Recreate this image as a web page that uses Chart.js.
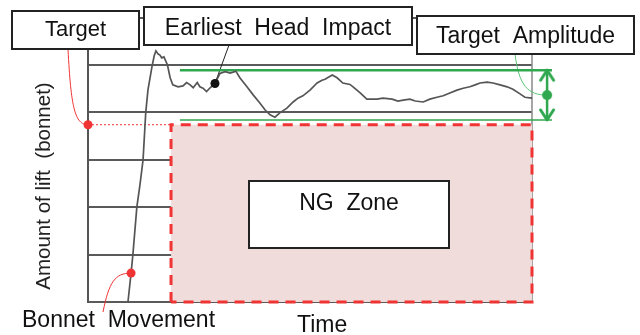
<!DOCTYPE html>
<html>
<head>
<meta charset="utf-8">
<script src="https://cdn.jsdelivr.net/npm/chart.js@4"></script>
<style>
  body { margin: 0; background: #fff; }
  canvas { display: block; }
</style>
</head>
<body>
<canvas id="lift-chart" width="640" height="335"></canvas>
<script>
// Bonnet lift trace (time 0-100, lift 0-6 grid units)
const liftTime = [9.0, 9.7, 10.1, 11.0, 11.7, 12.4, 13.0, 13.5, 14.4, 14.9, 15.3, 15.8, 16.2, 16.6, 17.1,
  17.9, 18.5, 19.1, 20.3, 21.4, 22.2, 23.0, 23.7, 24.6, 25.2, 25.9, 26.7, 27.5, 28.6, 29.7, 30.9,
  32.0, 32.7, 33.3, 34.2, 35.8, 37.2, 38.7, 39.9, 41.0, 42.1, 43.2, 44.8, 46.2, 47.3, 48.4, 50.0,
  51.6, 52.7, 53.4, 55.0, 56.1, 57.4, 59.0, 59.7, 61.3, 62.8, 65.1, 66.4, 68.5, 69.8, 71.0, 72.5,
  73.7, 75.5, 77.0, 78.6, 80.0, 81.5, 83.1, 84.5, 86.0, 87.2, 88.3, 89.9, 91.2, 92.8, 94.4, 95.7,
  97.3, 98.4, 100.0];
const liftValue = [0.00, 0.61, 0.99, 2.00, 2.47, 3.00, 3.99, 4.47, 4.96, 5.19, 5.30, 5.23, 5.21, 5.15, 5.17,
  5.00, 4.73, 4.58, 4.54, 4.56, 4.63, 4.58, 4.52, 4.63, 4.54, 4.51, 4.44, 4.52, 4.61, 4.82, 4.86,
  4.83, 4.85, 4.87, 4.73, 4.54, 4.37, 4.20, 4.05, 3.95, 3.90, 3.99, 4.09, 4.22, 4.30, 4.35, 4.47,
  4.62, 4.68, 4.70, 4.79, 4.73, 4.62, 4.59, 4.54, 4.41, 4.28, 4.28, 4.30, 4.28, 4.24, 4.26, 4.28,
  4.24, 4.22, 4.28, 4.32, 4.35, 4.41, 4.47, 4.51, 4.54, 4.58, 4.62, 4.64, 4.62, 4.58, 4.54, 4.49,
  4.39, 4.32, 4.30];

const targetLift = 3.74;      // target line / top of NG zone
const ngStart = 18.7;         // NG zone starts here on the time axis
const timeEnd = 100;
const ampHigh = 4.89;         // target amplitude band
const ampLow = 3.84;
const ampLineFrom = 20.7;
const ampLineTo = 104.5;
const ampArrowTime = 103.4;
const headImpact = { x: 28.6, y: 4.61 };
const bonnetPoint = { x: 9.7, y: 0.61 };
const yTicks = [0, 1, 2, 3, 4, 5, 6];

const GREEN = '#2fa84f';
const RED = '#f03434';
const FONT = '"Liberation Sans", Arial, sans-serif';

function chevron(color) {
  const c = document.createElement('canvas');
  c.width = 18; c.height = 26;
  const g = c.getContext('2d');
  g.strokeStyle = color; g.lineWidth = 3; g.lineCap = 'round'; g.lineJoin = 'round';
  g.beginPath(); g.moveTo(2.5, 23); g.lineTo(9, 13); g.lineTo(15.5, 23); g.stroke();
  return c;
}
function dotImage(color, r) {
  const c = document.createElement('canvas');
  c.width = r * 2 + 2; c.height = r * 2 + 2;
  const g = c.getContext('2d');
  g.fillStyle = color;
  g.beginPath(); g.arc(r + 1, r + 1, r, 0, Math.PI * 2); g.fill();
  return c;
}

const tracePoints = liftTime.map((t, i) => ({ x: t, y: liftValue[i] }));

function px(chart, x, y) {
  return { x: chart.scales.x.getPixelForValue(x), y: chart.scales.y.getPixelForValue(y) };
}

function labelBox(ctx, x1, y1, x2, y2, text, size, baseline) {
  ctx.fillStyle = '#fff';
  ctx.fillRect(x1, y1, x2 - x1, y2 - y1);
  ctx.strokeStyle = '#222';
  ctx.lineWidth = 2;
  ctx.strokeRect(x1, y1, x2 - x1, y2 - y1);
  ctx.fillStyle = '#111';
  ctx.font = size + 'px ' + FONT;
  ctx.textAlign = 'center';
  ctx.textBaseline = 'alphabetic';
  ctx.fillText(text, (x1 + x2) / 2, baseline);
}

const annotations = {
  id: 'annotations',
  beforeDatasetsDraw(chart) {
    const ctx = chart.ctx;
    const area = chart.chartArea;
    ctx.save();
    // right frame
    ctx.strokeStyle = '#888';
    ctx.lineWidth = 1.5;
    ctx.beginPath();
    ctx.moveTo(area.right, area.top);
    ctx.lineTo(area.right, area.bottom);
    ctx.stroke();

    // connector lines from labels to their points
    const t = px(chart, 0, targetLift);
    ctx.strokeStyle = RED; ctx.lineWidth = 1;
    ctx.beginPath(); ctx.moveTo(68, 49); ctx.bezierCurveTo(71, 108, 75, t.y, t.x, t.y); ctx.stroke();

    const b = px(chart, bonnetPoint.x, bonnetPoint.y);
    ctx.beginPath(); ctx.moveTo(103, 312); ctx.bezierCurveTo(109, 282, 115, b.y, b.x, b.y); ctx.stroke();

    const h = px(chart, headImpact.x, headImpact.y);
    ctx.strokeStyle = '#222';
    ctx.beginPath(); ctx.moveTo(229, 45); ctx.lineTo(h.x, h.y); ctx.stroke();

    const a = px(chart, ampArrowTime, (ampHigh + ampLow) / 2);
    ctx.strokeStyle = '#5cc47a';
    ctx.beginPath(); ctx.moveTo(515, 54); ctx.bezierCurveTo(519, 86, 528, a.y, a.x, a.y); ctx.stroke();
    ctx.restore();
  },
  afterDraw(chart) {
    const ctx = chart.ctx;
    ctx.save();
    labelBox(ctx, 12, 11, 139, 49, 'Target', 22, 36);
    labelBox(ctx, 144, 7, 412, 45, 'Earliest  Head  Impact', 23, 35);
    labelBox(ctx, 417, 16, 634, 54, 'Target  Amplitude', 23, 43);
    labelBox(ctx, 249, 181, 449, 248, 'NG  Zone', 23, 210);

    ctx.fillStyle = '#111';
    ctx.font = '23px ' + FONT;
    ctx.textAlign = 'left';
    ctx.fillText('Bonnet  Movement', 22, 327);
    ctx.fillText('Time', 297, 332);

    ctx.translate(50, 186);
    ctx.rotate(-Math.PI / 2);
    ctx.font = '20.5px ' + FONT;
    ctx.textAlign = 'center';
    ctx.fillStyle = '#222';
    ctx.fillText('Amount of lift  (bonnet)', 0, 0);
    ctx.restore();
  }
};

new Chart(document.getElementById('lift-chart').getContext('2d'), {
  type: 'scatter',
  data: {
    datasets: [
      { // marker dots
        data: [{ x: 0, y: targetLift }, bonnetPoint, headImpact],
        pointBackgroundColor: [RED, RED, '#111'],
        pointBorderWidth: 0,
        pointRadius: 4.5,
        clip: false
      },
      { // amplitude dot
        data: [{ x: ampArrowTime, y: (ampHigh + ampLow) / 2 }],
        pointStyle: dotImage(GREEN, 5),
        pointRadius: 20,
        clip: false
      },
      { // amplitude double arrow
        data: [{ x: ampArrowTime, y: ampHigh }, { x: ampArrowTime, y: ampLow }],
        showLine: true,
        borderColor: GREEN,
        borderWidth: 2.5,
        pointStyle: chevron(GREEN),
        pointRotation: [0, 180],
        pointRadius: 20,
        clip: false
      },
      { // bonnet lift trace
        data: tracePoints,
        showLine: true,
        borderColor: '#555',
        borderWidth: 1.7,
        pointRadius: 0,
        tension: 0,
        clip: false
      },
      { // upper amplitude line
        data: [{ x: ampLineFrom, y: ampHigh }, { x: ampLineTo, y: ampHigh }],
        showLine: true, borderColor: GREEN, borderWidth: 2.5, pointRadius: 0, clip: false
      },
      { // lower amplitude line
        data: [{ x: ampLineFrom, y: ampLow }, { x: ampLineTo, y: ampLow }],
        showLine: true, borderColor: GREEN, borderWidth: 1.6, pointRadius: 0, clip: false
      },
      { // dotted target line
        data: [{ x: 0, y: targetLift }, { x: ngStart, y: targetLift }],
        showLine: true, borderColor: RED, borderWidth: 1, borderDash: [2, 2], pointRadius: 0, clip: false
      },
      { // NG zone outline
        data: [{ x: ngStart, y: 0 }, { x: ngStart, y: targetLift }, { x: timeEnd, y: targetLift },
               { x: timeEnd, y: 0 }, { x: ngStart, y: 0 }],
        showLine: true, borderColor: RED, borderWidth: 3, borderDash: [10, 7], pointRadius: 0, clip: false
      },
      { // NG zone fill
        data: [{ x: ngStart, y: targetLift }, { x: timeEnd, y: targetLift }],
        showLine: true, borderWidth: 0, pointRadius: 0,
        fill: 'origin', backgroundColor: 'rgb(240,220,219)'
      }
    ]
  },
  options: {
    responsive: false,
    animation: false,
    events: [],
    layout: { autoPadding: false, padding: { left: 88, right: 108, top: 17.6, bottom: 33 } },
    plugins: { legend: { display: false }, tooltip: { enabled: false } },
    scales: {
      x: {
        type: 'linear', min: 0, max: timeEnd,
        ticks: { display: false },
        grid: { display: false, drawTicks: false },
        border: { display: false }
      },
      y: {
        min: 0, max: 6,
        afterBuildTicks: (s) => { s.ticks = yTicks.map(v => ({ value: v })); },
        ticks: { display: false },
        grid: { color: '#5a5a5a', lineWidth: 2, drawTicks: false },
        border: { color: '#555', width: 2 }
      }
    }
  },
  plugins: [annotations]
});
</script>
</body>
</html>
